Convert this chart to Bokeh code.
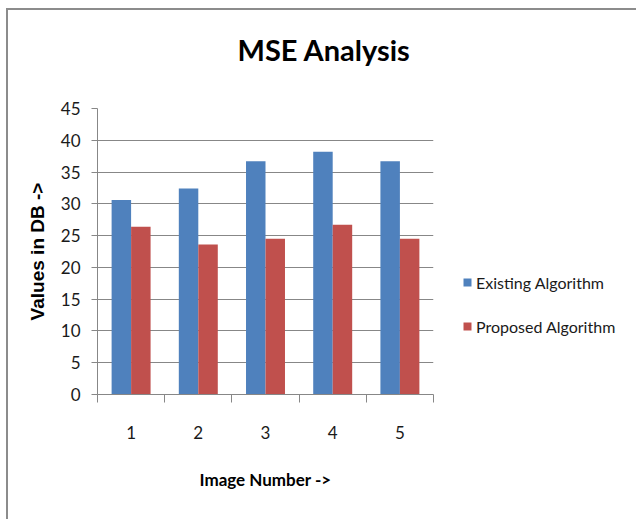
from bokeh.plotting import figure
from bokeh.models import FixedTicker, Legend, LegendItem, ColumnDataSource, Range1d, Title
from bokeh.transform import dodge
from bokeh.embed import file_html
from bokeh.resources import INLINE

# ---- data ----
images = [1, 2, 3, 4, 5]
existing = [30.6, 32.4, 36.7, 38.2, 36.7]
proposed = [26.4, 23.6, 24.5, 26.7, 24.5]
y_ticks = [0, 5, 10, 15, 20, 25, 30, 35, 40, 45]
series_names = ["Existing Algorithm", "Proposed Algorithm"]
colors = ["#4F81BD", "#C0504D"]
title_text = "MSE Analysis"
x_label = "Image Number ->"
y_label = "Values in DB ->"

FONT = "Lato"
GRAY = "#878787"
TXT = "#1a1a1a"

src = ColumnDataSource(dict(image=images, existing=existing, proposed=proposed))

p = figure(frame_width=336, frame_height=286,
           min_border_left=89, min_border_right=203,
           min_border_top=98, min_border_bottom=125,
           x_range=Range1d(images[0] - 0.5, images[-1] + 0.5),
           y_range=Range1d(y_ticks[0], y_ticks[-1]),
           output_backend="svg", toolbar_location=None)
p.styles = {"border-left": "2px solid #8c8c8c", "border-top": "2px solid #8c8c8c",
            "margin-left": "6px", "margin-top": "8px"}
p.outline_line_color = None
p.background_fill_color = "white"
p.border_fill_color = "white"

w = 0.29
r1 = p.vbar(x=dodge("image", -w / 2, range=p.x_range), top="existing", width=w,
            source=src, fill_color=colors[0], line_color=None)
r2 = p.vbar(x=dodge("image", w / 2, range=p.x_range), top="proposed", width=w,
            source=src, fill_color=colors[1], line_color=None)

# title (outermost) + blank spacer between title and frame
p.title.text = title_text
p.title.align = "left"
p.title.offset = 140
p.title.text_font = FONT
p.title.text_font_size = "29px"
p.title.text_font_style = "bold"
p.title.text_color = "#000000"
p.title.standoff = 0
spacer = Title(text=" ", text_font_size="10px", standoff=29)
p.add_layout(spacer, "above")

# x axis
bounds = [i - 0.5 for i in images] + [images[-1] + 0.5]
xa = p.xaxis[0]
xa.ticker = FixedTicker(ticks=images, minor_ticks=bounds)
xa.major_tick_out = 0
xa.major_tick_in = 0
xa.minor_tick_out = 8
xa.minor_tick_in = 0
xa.minor_tick_line_color = GRAY
xa.axis_line_color = GRAY
xa.major_label_standoff = 23
xa.major_label_text_font = FONT
xa.major_label_text_font_size = "17px"
xa.major_label_text_color = TXT
xa.axis_label = x_label
xa.axis_label_text_font = FONT
xa.axis_label_text_font_size = "17px"
xa.axis_label_text_font_style = "bold"
xa.axis_label_text_color = "#000000"
xa.axis_label_standoff = 27

# y axis
ya = p.yaxis[0]
ya.ticker = FixedTicker(ticks=y_ticks, minor_ticks=[])
ya.major_tick_out = 6
ya.major_tick_in = 0
ya.minor_tick_out = 0
ya.minor_tick_in = 0
ya.major_tick_line_color = GRAY
ya.axis_line_color = GRAY
ya.major_label_standoff = 11
ya.major_label_text_font = FONT
ya.major_label_text_font_size = "17px"
ya.major_label_text_color = TXT
ya.axis_label = y_label
ya.axis_label_text_font = "Liberation Sans"
ya.axis_label_text_font_size = "19px"
ya.axis_label_text_font_style = "bold"
ya.axis_label_text_color = "#000000"
ya.axis_label_standoff = 10

p.xgrid.visible = False
p.ygrid.ticker = FixedTicker(ticks=y_ticks, minor_ticks=[])
p.ygrid.grid_line_color = GRAY
p.ygrid.grid_line_width = 1

legend = Legend(items=[LegendItem(label=series_names[0], renderers=[r1]),
                       LegendItem(label=series_names[1], renderers=[r2])],
                location=(29, 58), orientation="vertical",
                glyph_width=10, glyph_height=10, label_height=20,
                label_standoff=4, spacing=24, padding=0, margin=0,
                border_line_color=None, background_fill_alpha=0,
                label_text_font=FONT, label_text_font_size="16px",
                label_text_color=TXT)
p.add_layout(legend, "right")

open("out.html", "w").write(file_html(p, INLINE))
